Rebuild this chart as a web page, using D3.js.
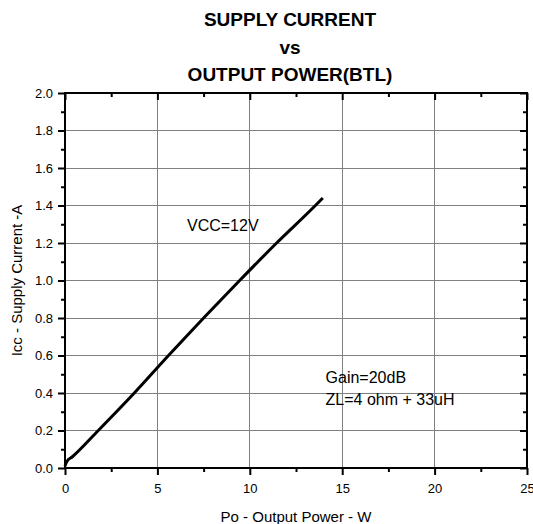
<!DOCTYPE html>
<html><head><meta charset="utf-8">
<script src="https://cdn.jsdelivr.net/npm/d3@7"></script>
<style>body{margin:0;background:#fff}svg{display:block;font-family:"Liberation Sans",Arial,sans-serif}</style>
</head><body><svg id="c" width="533" height="524"></svg>
<script>
const titleLines = ["SUPPLY CURRENT", "vs", "OUTPUT POWER(BTL)"];
const xLabel = "Po - Output Power - W";
const yLabel = "Icc - Supply Current -A";
const xTicks = [0, 5, 10, 15, 20, 25];
const yTicks = [0.0, 0.2, 0.4, 0.6, 0.8, 1.0, 1.2, 1.4, 1.6, 1.8, 2.0];
const powerW = [0, 0.1, 0.4, 1.8, 3.75, 5.6, 7.5, 9.45, 11.45, 13.55, 13.95];
const currentA = [0.01, 0.035, 0.06, 0.2, 0.4, 0.6, 0.8, 1.0, 1.2, 1.4, 1.44];
const notes = [{t:"VCC=12V", x:6.6, y:1.265}, {t:"Gain=20dB", x:14.1, y:0.455}, {t:"ZL=4 ohm + 33uH", x:14.1, y:0.335}];

const svg = d3.select("#c");
const L = 65, R = 527, T = 93, B = 468;
const x = d3.scaleLinear().domain([0, 25]).range([L, R]);
const y = d3.scaleLinear().domain([0, 2]).range([B, T]);

// grid
svg.append("g").selectAll("line").data(xTicks.slice(1, -1)).join("line")
  .attr("x1", d => x(d)).attr("x2", d => x(d)).attr("y1", T).attr("y2", B)
  .attr("stroke", "#808080").attr("stroke-width", 1).attr("shape-rendering","crispEdges");
svg.append("g").selectAll("line").data(yTicks.slice(1, -1)).join("line")
  .attr("y1", d => y(d)).attr("y2", d => y(d)).attr("x1", L).attr("x2", R)
  .attr("stroke", "#808080").attr("stroke-width", 1).attr("shape-rendering","crispEdges");

const minorX = d3.range(2.5, 25, 5);
const minorY = d3.range(0.1, 2.0, 0.2);

function styleAxis(g){ g.select(".domain").remove(); g.selectAll("line").attr("stroke","#000").attr("stroke-width",2); g.selectAll("text").attr("font-size","13px").attr("fill","#000"); }

// bottom
svg.append("g").attr("transform",`translate(0,${B})`)
  .call(d3.axisBottom(x).tickValues(xTicks).tickSize(7).tickPadding(9).tickFormat(d3.format("d"))).call(styleAxis);
svg.append("g").attr("transform",`translate(0,${B})`)
  .call(d3.axisBottom(x).tickValues(minorX).tickSize(4).tickFormat("")).call(styleAxis);
// top
svg.append("g").attr("transform",`translate(0,${T})`)
  .call(d3.axisBottom(x).tickValues(xTicks).tickSize(7).tickFormat("")).call(styleAxis);
svg.append("g").attr("transform",`translate(0,${T})`)
  .call(d3.axisBottom(x).tickValues(minorX).tickSize(4).tickFormat("")).call(styleAxis);
// left
svg.append("g").attr("transform",`translate(${L},0)`)
  .call(d3.axisLeft(y).tickValues(yTicks).tickSize(7).tickPadding(5).tickFormat(d3.format(".1f"))).call(styleAxis);
svg.append("g").attr("transform",`translate(${L},0)`)
  .call(d3.axisLeft(y).tickValues(minorY).tickSize(4).tickFormat("")).call(styleAxis);
// right
svg.append("g").attr("transform",`translate(${R},0)`)
  .call(d3.axisLeft(y).tickValues(yTicks).tickSize(7).tickFormat("")).call(styleAxis);
svg.append("g").attr("transform",`translate(${R},0)`)
  .call(d3.axisLeft(y).tickValues(minorY).tickSize(4).tickFormat("")).call(styleAxis);

// frame
svg.append("rect").attr("x", L).attr("y", T).attr("width", R - L).attr("height", B - T)
  .attr("fill","none").attr("stroke","#000").attr("stroke-width",2);

// data line
svg.append("path").datum(powerW.map((p,i)=>[p,currentA[i]]))
  .attr("d", d3.line().curve(d3.curveMonotoneX).x(d=>x(d[0])).y(d=>y(d[1])))
  .attr("fill","none").attr("stroke","#000").attr("stroke-width",3).attr("stroke-linejoin","round");

// annotations
svg.append("g").selectAll("text").data(notes).join("text")
  .attr("x", d=>x(d.x)).attr("y", d=>y(d.y)).text(d=>d.t)
  .attr("font-size","16px").attr("fill","#000");

// titles
svg.append("g").selectAll("text").data(titleLines).join("text")
  .attr("x", 290).attr("y", (d,i)=>[26, 54, 81][i]).attr("text-anchor","middle")
  .attr("font-size","19px").attr("font-weight","bold").attr("fill","#000").text(d=>d);

svg.append("text").attr("x", (L+R)/2).attr("y", 522).attr("text-anchor","middle")
  .attr("font-size","15px").text(xLabel);
svg.append("text").attr("transform",`translate(22,${(T+B)/2}) rotate(-90)`).attr("text-anchor","middle")
  .attr("font-size","15px").text(yLabel);
</script></body></html>
